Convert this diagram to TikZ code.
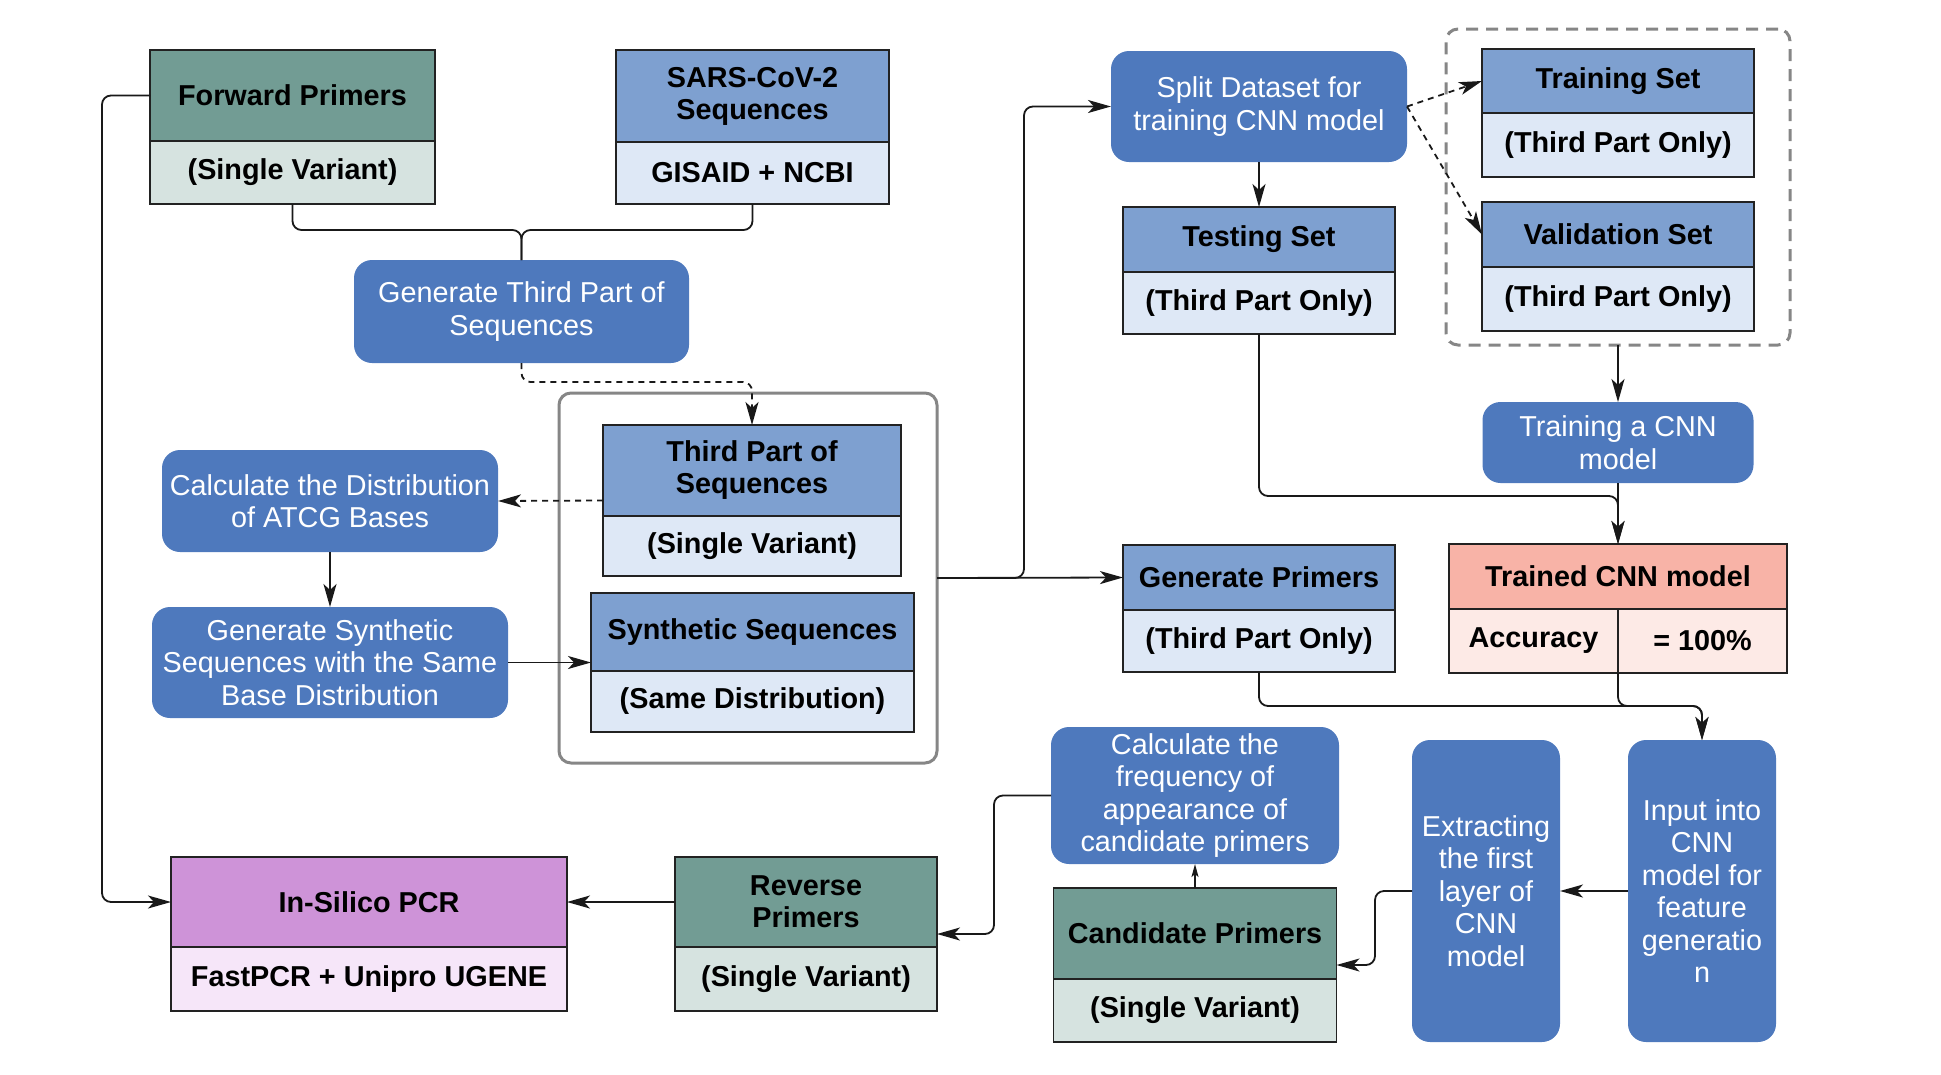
\documentclass[tikz,border=0pt]{standalone}
\usepackage{fontspec}
\setmainfont{Liberation Sans}
\usepackage{xcolor}
\usetikzlibrary{arrows.meta,positioning,calc}

\definecolor{actblue}{HTML}{4E79BD}
\definecolor{hdrblue}{HTML}{7EA0D0}
\definecolor{subblue}{HTML}{DEE8F6}
\definecolor{hdrteal}{HTML}{729C94}
\definecolor{subteal}{HTML}{D6E3E0}
\definecolor{hdrsalmon}{HTML}{F8B3A7}
\definecolor{subsalmon}{HTML}{FDEAE6}
\definecolor{hdrpurple}{HTML}{CE93D8}
\definecolor{subpurple}{HTML}{F6E6F9}
\definecolor{edge}{HTML}{222222}
\definecolor{grpgray}{HTML}{868686}

\begin{document}
\begin{tikzpicture}[
  x=1pt, y=-1pt,
  box/.style={draw=edge, line width=1.6pt, align=center, outer sep=0pt, inner sep=2pt,
              font=\fontsize{28.8}{32}\selectfont\bfseries},
  hdr/.style={box, fill=hdrblue},
  sub/.style={box, fill=subblue},
  sz/.style 2 args={minimum width=#1pt, minimum height=#2pt},
  act/.style={fill=actblue, text=white, rounded corners=18pt, align=center, inner sep=2pt,
              outer sep=0pt, font=\fontsize{28.8}{32.5}\selectfont},
  grp/.style={draw=grpgray, line width=3pt, rounded corners=12pt, outer sep=0pt},
  dgrp/.style={grp, dash pattern=on 12pt off 8pt},
  link/.style={line width=1.8pt, draw=black!90, rounded corners=9pt},
  conn/.style={link, -{Stealth[length=23pt,width=13pt,inset=6pt]}},
  dconn/.style={conn, dash pattern=on 6pt off 5pt},
  small/.style={-{Stealth[length=13pt,width=7pt,inset=3pt]}}
]
  \useasboundingbox (0,0) rectangle (1941,1074);

  % sources
  \node[hdr, sz={285}{91}, fill=hdrteal] (fp) at (292.5,95.5) {Forward Primers};
  \node[sub, sz={285}{63}, fill=subteal, below=0pt of fp] (fpb) {(Single Variant)};
  \node[hdr, sz={273}{92}] (sars) at (752.5,96) {SARS-CoV-2\\Sequences};
  \node[sub, sz={273}{62}, below=0pt of sars] (sarsb) {GISAID + NCBI};
  \node[act, sz={335}{103}] (genthird) at (521.5,311.5) {Generate Third Part of\\Sequences};

  % sequence group
  \node[grp, sz={378}{370}] (grpseq) at (748,578) {};
  \node[hdr, sz={298}{91}] (tp) at (752,470.5) {Third Part of\\Sequences};
  \node[sub, sz={298}{60}, below=0pt of tp] (tpb) {(Single Variant)};
  \node[hdr, sz={323}{78}] (synth) at (752.5,632) {Synthetic Sequences};
  \node[sub, sz={323}{61}, below=0pt of synth] (synthb) {(Same Distribution)};
  \node[act, sz={336}{102}] (calcdist) at (330,501) {Calculate the Distribution\\of ATCG Bases};
  \node[act, sz={356}{111}] (gensynth) at (330,662.5) {Generate Synthetic\\Sequences with the Same\\Base Distribution};

  % CNN branch
  \node[act, sz={296}{111}] (split) at (1259,106.5) {Split Dataset for\\training CNN model};
  \node[dgrp, sz={344}{316}] (grpsets) at (1618,187) {};
  \node[hdr, sz={272}{64}] (train) at (1618,81) {Training Set};
  \node[sub, sz={272}{64}, below=0pt of train] (trainb) {(Third Part Only)};
  \node[hdr, sz={272}{65}] (valid) at (1618,234.5) {Validation Set};
  \node[sub, sz={272}{64}, below=0pt of valid] (validb) {(Third Part Only)};
  \node[hdr, sz={272}{65}] (test) at (1259,239.5) {Testing Set};
  \node[sub, sz={272}{62}, below=0pt of test] (testb) {(Third Part Only)};
  \node[act, sz={271}{81}] (traincnn) at (1618,442.5) {Training a CNN\\model};
  \node[hdr, sz={338}{65}, fill=hdrsalmon] (trained) at (1618,576.5) {Trained CNN model};
  \node[sub, sz={169}{64}, fill=subsalmon, anchor=north west] (acc) at (trained.south west) {Accuracy};
  \node[sub, sz={169}{64}, fill=subsalmon, right=0pt of acc] (accval) {= 100\%};
  \node[hdr, sz={272}{65}] (genprim) at (1259,577.5) {Generate Primers};
  \node[sub, sz={272}{62}, below=0pt of genprim] (genprimb) {(Third Part Only)};

  % primer selection
  \node[act, sz={148}{302}] (inputcnn) at (1702,891) {Input into\\CNN\\model for\\feature\\generatio\\n};
  \node[act, sz={148}{302}] (extract) at (1486,891) {Extracting\\the first\\layer of\\CNN\\model};
  \node[act, sz={288}{137}] (calcfreq) at (1195,795.5) {Calculate the\\frequency of\\appearance of\\candidate primers};
  \node[hdr, sz={283}{91}, fill=hdrteal] (cand) at (1195,933.5) {Candidate Primers};
  \node[sub, sz={283}{63}, fill=subteal, below=0pt of cand] (candb) {(Single Variant)};
  \node[hdr, sz={262}{90}, fill=hdrteal] (rev) at (806,902) {Reverse\\Primers};
  \node[sub, sz={262}{64}, fill=subteal, below=0pt of rev] (revb) {(Single Variant)};
  \node[hdr, sz={396}{90}, fill=hdrpurple] (insilico) at (369,902) {In-Silico PCR};
  \node[sub, sz={396}{64}, fill=subpurple, below=0pt of insilico] (insilicob) {FastPCR + Unipro UGENE};

  % connectors
  \draw[link] (fpb.south) -- ++(0,26) -| (genthird.north);
  \draw[link] (sarsb.south) -- ++(0,26) -| (genthird.north);
  \draw[dconn] (genthird.south) -- ++(0,19) -| (tp.north);
  \draw[dconn] ($(tp.north west)!0.5!(tpb.south west)$) -- (calcdist.east);
  \draw[conn] (calcdist) -- (gensynth);
  \draw[conn] (gensynth.east) -- (gensynth.east -| synth.west);
  \draw[conn] (grpseq.east) -- (genprim.west);
  \draw[conn] (grpseq.east) -- ++(87,0) |- (split.west);
  \draw[conn] (split) -- (test);
  \draw[dconn] (split.east) -- (train.west);
  \draw[dconn] (split.east) -- (valid.west);
  \draw[conn] (grpsets) -- (traincnn);
  \draw[conn] (traincnn) -- (trained);
  \draw[conn] (testb.south) -- ++(0,162) -| (trained.north);
  \draw[conn] (genprimb.south) -- ++(0,34) -| (inputcnn.north);
  \draw[conn] (acc.south east) -- ++(0,33) -| (inputcnn.north);
  \draw[conn] (inputcnn) -- (extract);
  \draw[conn] (extract.west) -- ++(-37,0) |- ($(cand.north east)!0.5!(candb.south east)$);
  \draw[conn, small] (cand) -- (calcfreq);
  \draw[conn] (calcfreq.west) -- ++(-57,0) |- ($(rev.north east)!0.5!(revb.south east)$);
  \draw[conn] (rev) -- (insilico);
  \draw[conn] (fp.west) -- ++(-48,0) |- (insilico.west);
\end{tikzpicture}
\end{document}
